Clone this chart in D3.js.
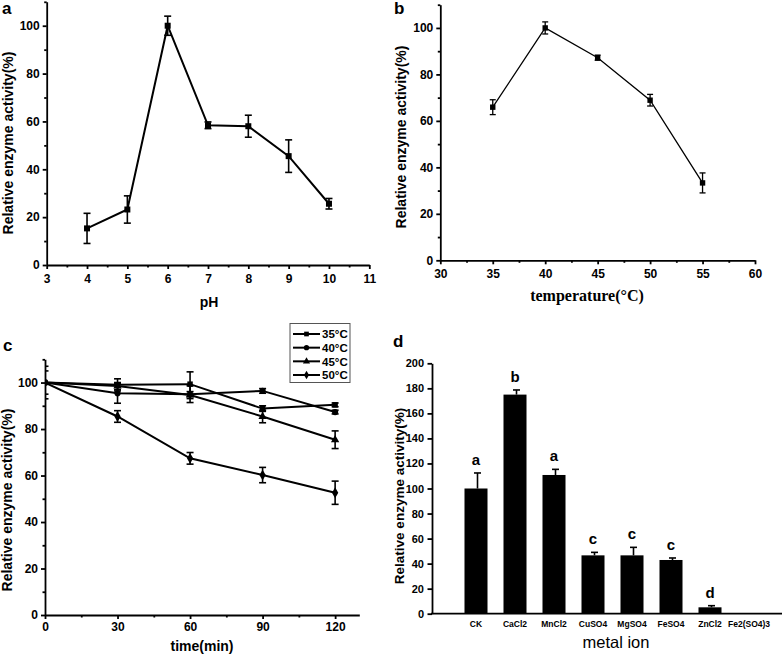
<!DOCTYPE html>
<html><head><meta charset="utf-8">
<script src="https://cdn.jsdelivr.net/npm/d3@7"></script>
<style>
body{margin:0;background:#fff;}
svg{display:block;}
text{font-family:"Liberation Sans",Arial,sans-serif;fill:#000;}
</style></head>
<body>
<svg id="chart" width="784" height="654"></svg>
<script>
// ---- data ----
const phX = [4, 5, 6, 7, 8, 9, 10];
const phY = [15.3, 23.2, 100, 58.4, 58.0, 45.5, 25.6];
const phErr = [6.3, 5.7, 4.0, 1.4, 4.6, 6.8, 2.2];

const tempX = [35, 40, 45, 50, 55];
const tempY = [65.9, 100, 87.2, 68.9, 33.3];
const tempErr = [3.2, 2.6, 1.1, 2.5, 4.3];

const timeX = [0, 30, 60, 90, 120];
const seriesNames = ["35°C", "40°C", "45°C", "50°C"];
const series35 = [100, 99.0, 99.3, 88.8, 90.4];
const err35 = [5, 2.6, 5.3, 1.2, 0.8];
const series40 = [100, 95.4, 95.0, 96.4, 87.3];
const err40 = [7, 4.3, 3.6, 1.0, 0.8];
const series45 = [100, 98.5, 94.6, 85.4, 75.4];
const err45 = [0, 1.5, 1.5, 2.7, 3.8];
const series50 = [100, 85.4, 67.4, 60.2, 52.6];
const err50 = [0, 2.5, 2.5, 3.3, 5.0];

const metals = ["CK", "CaCl2", "MnCl2", "CuSO4", "MgSO4", "FeSO4", "ZnCl2", "Fe2(SO4)3"];
const metalVal = [100, 175.0, 110.8, 46.6, 46.6, 42.9, 5.1, 0];
const metalErr = [12.4, 3.7, 4.5, 2.4, 6.4, 1.6, 1.3, 0];
const metalSig = ["a", "b", "a", "c", "c", "c", "d", ""];

const yTicks = [0, 20, 40, 60, 80, 100];
const yMinor = [10, 30, 50, 70, 90, 110];
const phTicks = [3, 4, 5, 6, 7, 8, 9, 10, 11];
const phMinor = [3.5, 4.5, 5.5, 6.5, 7.5, 8.5, 9.5, 10.5];
const tempTicks = [30, 35, 40, 45, 50, 55, 60];
const tempMinor = [32.5, 37.5, 42.5, 47.5, 52.5, 57.5];
const timeTicks = [0, 30, 60, 90, 120];
const timeMinor = [15, 45, 75, 105];
const metalTicks = [0, 20, 40, 60, 80, 100, 120, 140, 160, 180, 200];

const svg = d3.select("#chart");

function styleAxis(g, w) {
  g.select(".domain").attr("stroke", "#000").attr("stroke-width", w);
  g.selectAll(".tick line").attr("stroke", "#000").attr("stroke-width", w);
  g.selectAll(".tick text").attr("font-size", 12).attr("font-weight", "bold")
    .attr("font-family", '"Liberation Sans",Arial,sans-serif');
}

function drawAxes(g, x, y, xt, xm, yt, ym, opts) {
  const w = opts.w || 1.8;
  const xa = g.append("g").attr("transform", `translate(0,${y.range()[0]})`)
    .call(d3.axisBottom(x).tickValues(xt).tickSize(4).tickPadding(opts.xpad || 5).tickSizeOuter(0));
  styleAxis(xa, w);
  const xm2 = g.append("g").attr("transform", `translate(0,${y.range()[0]})`)
    .call(d3.axisBottom(x).tickValues(xm).tickSize(2.5).tickFormat("").tickSizeOuter(0));
  styleAxis(xm2, w); xm2.select(".domain").remove();
  const ya = g.append("g").attr("transform", `translate(${x.range()[0]},0)`)
    .call(d3.axisLeft(y).tickValues(yt).tickSize(4).tickPadding(3).tickSizeOuter(0));
  styleAxis(ya, w);
  const ym2 = g.append("g").attr("transform", `translate(${x.range()[0]},0)`)
    .call(d3.axisLeft(y).tickValues(ym).tickSize(2.5).tickFormat("").tickSizeOuter(0));
  styleAxis(ym2, w); ym2.select(".domain").remove();
}

function errBars(g, xs, ys, es, x, y, cap, sw) {
  xs.forEach((xv, i) => {
    if (!es[i]) return;
    const cx = x(xv), t = y(ys[i] + es[i]), b = y(ys[i] - es[i]);
    g.append("line").attr("x1", cx).attr("x2", cx).attr("y1", t).attr("y2", b)
      .attr("stroke", "#000").attr("stroke-width", sw);
    [t, b].forEach(v => g.append("line").attr("x1", cx - cap).attr("x2", cx + cap)
      .attr("y1", v).attr("y2", v).attr("stroke", "#000").attr("stroke-width", sw));
  });
}

function yTitle(x, y, size, label) {
  svg.append("text").attr("transform", `translate(${x},${y}) rotate(-90)`)
    .attr("text-anchor", "middle").attr("font-size", size).attr("font-weight", "bold").text(label);
}
function panelLetter(x, y, t) {
  svg.append("text").attr("x", x).attr("y", y).attr("font-size", 17).attr("font-weight", "bold").text(t);
}

// ---------- Panel a ----------
{
  const x = d3.scaleLinear().domain([3, 11]).range([46.7, 369.3]);
  const y = d3.scaleLinear().domain([0, 110]).range([265, 1.8]);
  const g = svg.append("g");
  drawAxes(g, x, y, phTicks, phMinor, yTicks, yMinor, {w: 1.8, xpad: 5});
  const line = d3.line().x(d => x(d[0])).y(d => y(d[1]));
  g.append("path").datum(phX.map((v, i) => [v, phY[i]])).attr("d", line)
    .attr("fill", "none").attr("stroke", "#000").attr("stroke-width", 2);
  errBars(g, phX, phY, phErr, x, y, 3.5, 1.6);
  g.selectAll("rect.m").data(phX).join("rect")
    .attr("x", (d) => x(d) - 3).attr("y", (d, i) => y(phY[i]) - 3)
    .attr("width", 6).attr("height", 6).attr("fill", "#000");
  svg.append("text").attr("x", 209).attr("y", 306.5).attr("text-anchor", "middle")
    .attr("font-size", 14).attr("font-weight", "bold").text("pH");
  yTitle(12.5, 143, 14, "Relative enzyme activity(%)");
  panelLetter(2, 14, "a");
}

// ---------- Panel b ----------
{
  const x = d3.scaleLinear().domain([30, 60]).range([440.3, 755]);
  const y = d3.scaleLinear().domain([0, 110]).range([260.3, 4.7]);
  const g = svg.append("g");
  drawAxes(g, x, y, tempTicks, tempMinor, yTicks, yMinor, {w: 1.8, xpad: 5});
  const line = d3.line().x(d => x(d[0])).y(d => y(d[1]));
  g.append("path").datum(tempX.map((v, i) => [v, tempY[i]])).attr("d", line)
    .attr("fill", "none").attr("stroke", "#000").attr("stroke-width", 1.3);
  errBars(g, tempX, tempY, tempErr, x, y, 3, 1.3);
  g.selectAll("rect.m").data(tempX).join("rect")
    .attr("x", d => x(d) - 2.7).attr("y", (d, i) => y(tempY[i]) - 2.7)
    .attr("width", 5.4).attr("height", 5.4).attr("fill", "#000");
  svg.append("text").attr("x", 587).attr("y", 300.5).attr("text-anchor", "middle")
    .attr("font-size", 16).attr("font-weight", "bold")
    .style("font-family", '"Liberation Serif","Times New Roman",serif').text("temperature(°C)");
  yTitle(406, 137, 14, "Relative enzyme activity(%)");
  panelLetter(394, 14, "b");
}

// ---------- Panel c ----------
{
  const x = d3.scaleLinear().domain([0, 130]).range([45, 359.3]);
  const y = d3.scaleLinear().domain([0, 110]).range([615, 359.3]);
  const g = svg.append("g");
  svg.append("defs").append("clipPath").attr("id", "clipC").append("rect")
    .attr("x", 45).attr("y", 340).attr("width", 320).attr("height", 280);
  const pg = g.append("g").attr("clip-path", "url(#clipC)");
  const all = [series35, series40, series45, series50];
  const errs = [err35, err40, err45, err50];
  const shapes = [d3.symbolSquare, d3.symbolCircle, d3.symbolTriangle, d3.symbolDiamond];
  const sizes = [30, 30, 30, 34];
  const line = d3.line().x(d => x(d[0])).y(d => y(d[1]));
  all.forEach((s, k) => {
    pg.append("path").datum(timeX.map((v, i) => [v, s[i]])).attr("d", line)
      .attr("fill", "none").attr("stroke", "#000").attr("stroke-width", 2);
  });
  all.forEach((s, k) => {
    errBars(pg, timeX, s, errs[k], x, y, 3.5, 1.6);
    pg.selectAll(null).data(timeX).join("path")
      .attr("transform", (d, i) => `translate(${x(d)},${y(s[i])})`)
      .attr("d", d3.symbol().type(shapes[k]).size(sizes[k])).attr("fill", "#000");
  });
  drawAxes(g, x, y, timeTicks, timeMinor, yTicks, yMinor, {w: 1.8, xpad: 3.5});
  svg.append("text").attr("x", 202).attr("y", 651).attr("text-anchor", "middle")
    .attr("font-size", 14).attr("font-weight", "bold").text("time(min)");
  yTitle(12, 500, 14, "Relative enzyme activity(%)");
  panelLetter(3, 351, "c");
  // legend
  const lg = svg.append("g");
  lg.append("rect").attr("x", 290).attr("y", 323.5).attr("width", 60).attr("height", 59)
    .attr("fill", "#fff").attr("stroke", "#555").attr("stroke-width", 1);
  const ly = d3.scalePoint().domain(seriesNames).range([334, 375]);
  seriesNames.forEach((n, k) => {
    const yy = ly(n);
    lg.append("line").attr("x1", 293).attr("x2", 320).attr("y1", yy).attr("y2", yy)
      .attr("stroke", "#000").attr("stroke-width", 2);
    lg.append("path").attr("transform", `translate(306.5,${yy})`)
      .attr("d", d3.symbol().type(shapes[k]).size(22)).attr("fill", "#000");
    lg.append("text").attr("x", 322).attr("y", yy + 4.2).attr("font-size", 11.5)
      .attr("font-weight", "bold").text(n);
  });
}

// ---------- Panel d ----------
{
  const x = d3.scaleBand().domain(metals).range([456.5, 768.5]).paddingInner(0.41).paddingOuter(0.205);
  const y = d3.scaleLinear().domain([0, 200]).range([613.7, 363.3]);
  const g = svg.append("g");
  g.selectAll("rect.bar").data(metals).join("rect")
    .attr("x", d => x(d)).attr("width", x.bandwidth())
    .attr("y", (d, i) => y(metalVal[i])).attr("height", (d, i) => y(0) - y(metalVal[i]))
    .attr("fill", "#000");
  metals.forEach((m, i) => {
    if (!metalErr[i]) return;
    const cx = x(m) + x.bandwidth() / 2 + 1.5, t = y(metalVal[i] + metalErr[i]);
    g.append("line").attr("x1", cx).attr("x2", cx).attr("y1", t).attr("y2", y(metalVal[i]))
      .attr("stroke", "#000").attr("stroke-width", 1.6);
    g.append("line").attr("x1", cx - 3.5).attr("x2", cx + 3.5).attr("y1", t).attr("y2", t)
      .attr("stroke", "#000").attr("stroke-width", 1.6);
  });
  g.selectAll("text.sig").data(metals).join("text")
    .attr("x", d => x(d) + x.bandwidth() / 2).attr("y", (d, i) => y(metalVal[i] + metalErr[i]) - 8)
    .attr("text-anchor", "middle").attr("font-size", 15).attr("font-weight", "bold")
    .text((d, i) => metalSig[i]);
  const ya = g.append("g").attr("transform", "translate(432,0)")
    .call(d3.axisLeft(y).tickValues(metalTicks).tickSize(4.5).tickPadding(3.5).tickSizeOuter(0));
  styleAxis(ya, 1.8);
  ya.selectAll(".tick text").attr("font-size", 11);
  g.append("line").attr("x1", 431).attr("x2", 782).attr("y1", y(0)).attr("y2", y(0))
    .attr("stroke", "#000").attr("stroke-width", 1.8);
  const xa = g.append("g").attr("transform", `translate(0,${y(0)})`)
    .call(d3.axisBottom(x).tickSize(0).tickPadding(7));
  xa.select(".domain").remove();
  xa.selectAll(".tick text").attr("font-size", 8.5).attr("font-weight", "bold")
    .attr("font-family", '"Liberation Sans",Arial,sans-serif');
  svg.append("text").attr("x", 616).attr("y", 648).attr("text-anchor", "middle")
    .attr("font-size", 16.5).text("metal ion");
  yTitle(404, 496, 13.5, "Relative enzyme activity(%)");
  panelLetter(393, 347, "d");
}
</script>
</body></html>
